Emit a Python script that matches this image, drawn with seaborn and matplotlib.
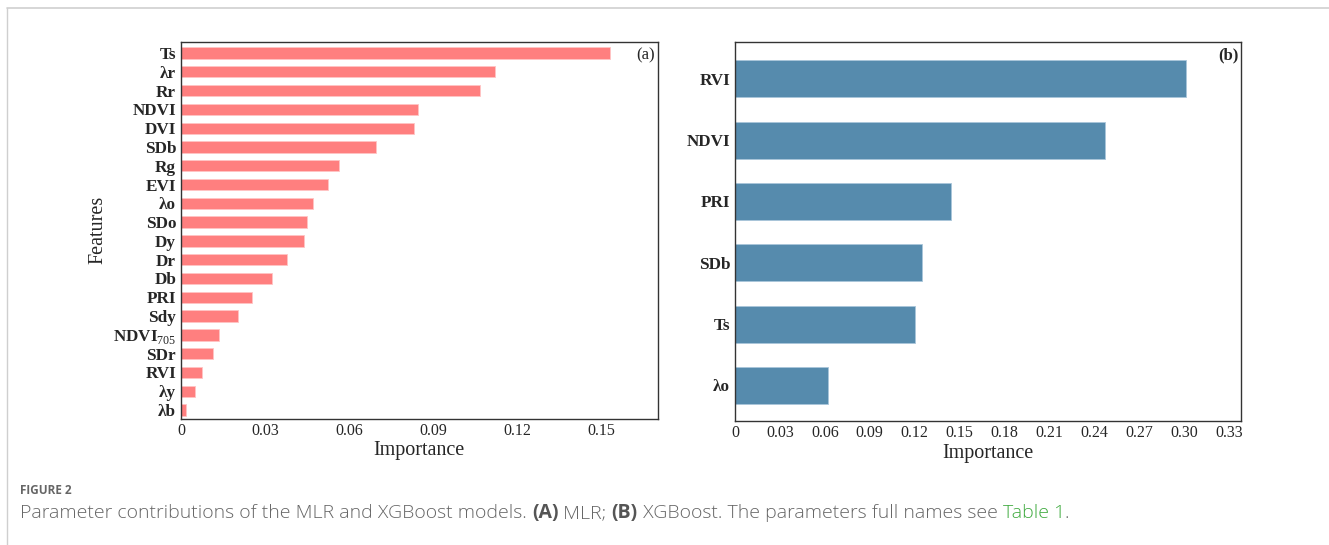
import pandas as pd
import seaborn as sns
import matplotlib.pyplot as plt
from matplotlib.lines import Line2D

# MLR feature importance (panel a)
mlr_features = ["Ts", "λr", "Rr", "NDVI", "DVI", "SDb", "Rg", "EVI", "λo", "SDo",
                "Dy", "Dr", "Db", "PRI", "Sdy", r"NDVI$_{\mathrm{705}}$", "SDr", "RVI", "λy", "λb"]
mlr_importance = [0.1532, 0.1119, 0.1068, 0.0846, 0.0831, 0.0694, 0.0565, 0.0523, 0.0470, 0.0449,
                  0.0439, 0.0377, 0.0324, 0.0255, 0.0202, 0.0136, 0.0114, 0.0076, 0.0049, 0.0018]

# XGBoost feature importance (panel b)
xgb_features = ["RVI", "NDVI", "PRI", "SDb", "Ts", "λo"]
xgb_importance = [0.301, 0.247, 0.1445, 0.1246, 0.1204, 0.062]

left_ticks = [0, 0.03, 0.06, 0.09, 0.12, 0.15]
left_ticklabels = ["0", "0.03", "0.06", "0.09", "0.12", "0.15"]
right_ticks = [0, 0.03, 0.06, 0.09, 0.12, 0.15, 0.18, 0.21, 0.24, 0.27, 0.30, 0.33]
right_ticklabels = ["0", "0.03", "0.06", "0.09", "0.12", "0.15", "0.18", "0.21", "0.24", "0.27", "0.30", "0.33"]

sns.set_style("white")
plt.rcParams['font.family'] = ['Liberation Serif', 'DejaVu Serif']
plt.rcParams['mathtext.fontset'] = 'custom'
plt.rcParams['mathtext.rm'] = 'Liberation Serif'

fig = plt.figure(figsize=(13.29, 5.45), dpi=100)
ax1 = fig.add_axes([181 / 1329, 1 - 418.5 / 545, 476.5 / 1329, 376.8 / 545])
ax2 = fig.add_axes([735 / 1329, 1 - 421 / 545, 506 / 1329, 379 / 545])

df1 = pd.DataFrame({"Features": mlr_features, "Importance": mlr_importance})
df2 = pd.DataFrame({"Features": xgb_features, "Importance": xgb_importance})

sns.barplot(data=df1, x="Importance", y="Features", color="#ff7f7f", saturation=1,
            width=0.6, edgecolor="#ffc4c4", linewidth=0.6, ax=ax1)
sns.barplot(data=df2, x="Importance", y="Features", color="#568bad", saturation=1,
            width=0.6, edgecolor="#a9c6da", linewidth=0.6, ax=ax2)

ax1.set_xlim(0, 0.170)
ax1.set_ylim(19.45, -0.6)
ax1.set_xticks(left_ticks)
ax1.set_xticklabels(left_ticklabels)
ax2.set_xlim(0, 0.338)
ax2.set_ylim(5.58, -0.6)
ax2.set_xticks(right_ticks)
ax2.set_xticklabels(right_ticklabels)

for ax in (ax1, ax2):
    for sp in ax.spines.values():
        sp.set_visible(True)
        sp.set_color("#333333")
        sp.set_linewidth(1.0)
    ax.tick_params(axis="x", direction="in", length=3, width=0.8, labelsize=11.5, pad=3, color="#333333")
    ax.tick_params(axis="y", direction="out", length=2.5, width=0.8, labelsize=12.3, pad=1, color="#333333")
    for lab in ax.get_yticklabels():
        lab.set_fontweight("bold")
    ax.set_xlabel("Importance", fontsize=14.5, labelpad=2)

ax1.set_ylabel("Features", fontsize=14.5, labelpad=4)
ax2.set_ylabel("")

ax1.text(0.995, 0.985, "(a)", transform=ax1.transAxes, ha="right", va="top", fontsize=12)
ax2.text(0.995, 0.985, "(b)", transform=ax2.transAxes, ha="right", va="top", fontsize=12,
         fontweight="bold")

# page frame lines and caption
fig.add_artist(Line2D([7 / 1329, 7 / 1329], [0, 1 - 8 / 545], transform=fig.transFigure,
                      color="#cfcfcf", linewidth=1))
fig.add_artist(Line2D([7 / 1329, 1], [1 - 8 / 545, 1 - 8 / 545], transform=fig.transFigure,
                      color="#cfcfcf", linewidth=1.2))

cap_font = ['Open Sans', 'DejaVu Sans']
fig.text(20 / 1329, 1 - 491 / 545, "FIGURE 2", family=cap_font, fontsize=8.5, fontweight="bold",
         color="#666666", va="center")
parts = [("Parameter contributions of the MLR and XGBoost models. ", "light", "#666666"),
         ("(A)", "bold", "#555555"),
         (" MLR; ", "light", "#666666"),
         ("(B)", "bold", "#555555"),
         (" XGBoost. The parameters full names see ", "light", "#666666"),
         ("Table 1", "light", "#3faa3f"),
         (".", "light", "#666666")]
fig.canvas.draw()
renderer = fig.canvas.get_renderer()
x = 20 / 1329
for txt, weight, col in parts:
    t = fig.text(x, 1 - 513 / 545, txt, family=cap_font, fontsize=14, fontweight=weight,
                 color=col, va="center")
    bb = t.get_window_extent(renderer=renderer)
    x += bb.width / fig.bbox.width

fig.savefig("out.png", dpi=100)
